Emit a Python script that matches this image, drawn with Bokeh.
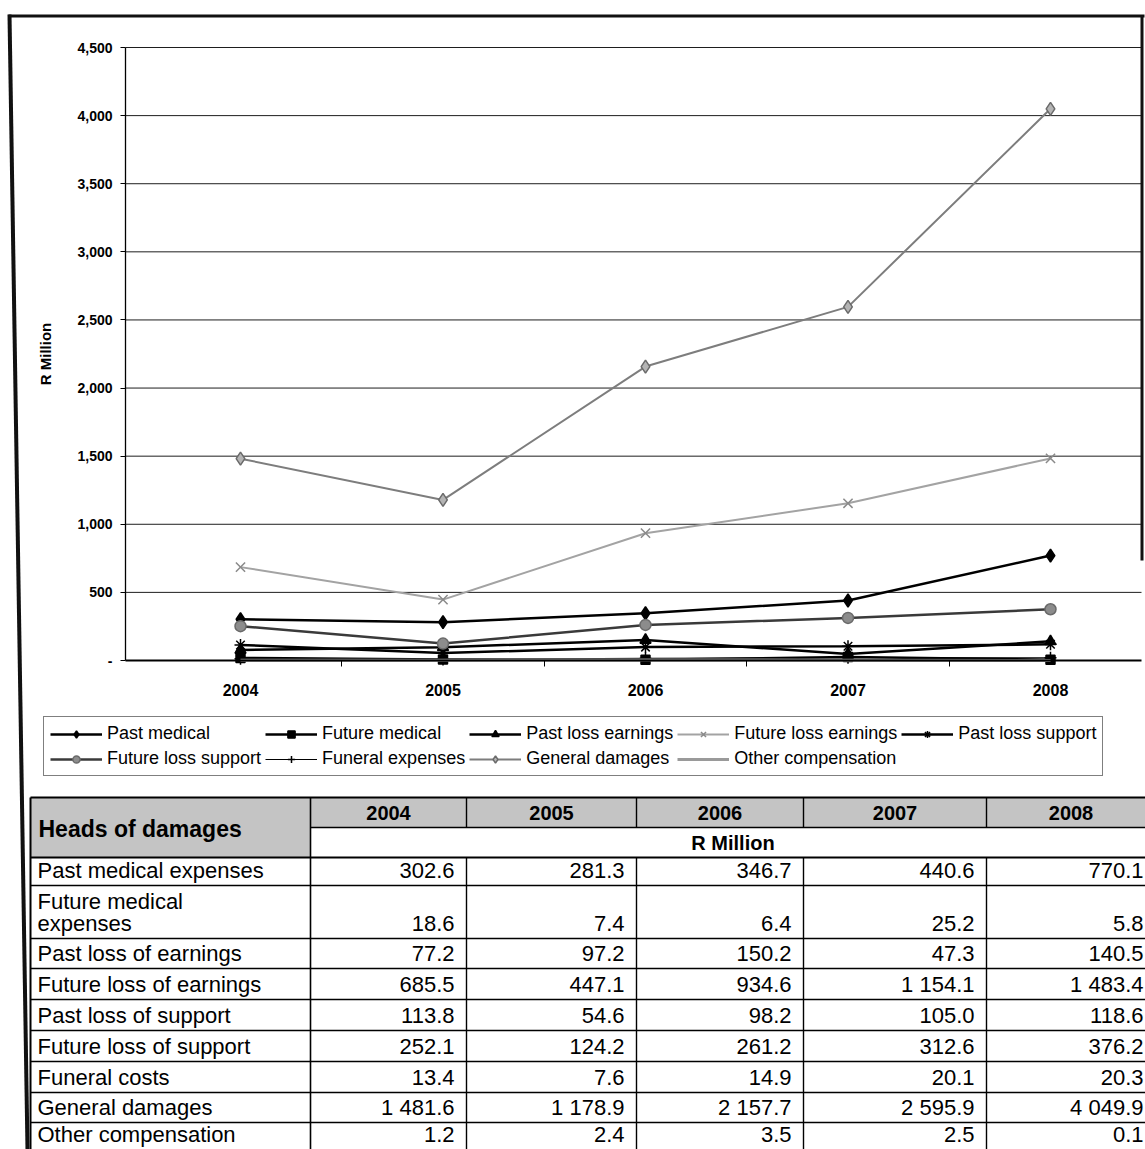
from bokeh.plotting import figure
from bokeh.models import (Range1d, FixedTicker, NumeralTickFormatter, Legend,
                          LegendItem, LinearAxis, ColumnDataSource)
from bokeh.embed import file_html
from bokeh.resources import INLINE
from bokeh.core.properties import value

# ---- data (R Million) ----
years = [2004, 2005, 2006, 2007, 2008]

past_medical = [302.6, 281.3, 346.7, 440.6, 770.1]
future_medical = [18.6, 7.4, 6.4, 25.2, 5.8]
past_loss_earnings = [77.2, 97.2, 150.2, 47.3, 140.5]
future_loss_earnings = [685.5, 447.1, 934.6, 1154.1, 1483.4]
past_loss_support = [113.8, 54.6, 98.2, 105.0, 118.6]
future_loss_support = [252.1, 124.2, 261.2, 312.6, 376.2]
funeral_costs = [13.4, 7.6, 14.9, 20.1, 20.3]
general_damages = [1481.6, 1178.9, 2157.7, 2595.9, 4049.9]
other_compensation = [1.2, 2.4, 3.5, 2.5, 0.1]

legend_labels = ["Past medical", "Future medical", "Past loss earnings",
                 "Future loss earnings", "Past loss support", "Future loss support",
                 "Funeral expenses", "General damages", "Other compensation"]

table_labels = ["Past medical expenses", "Future medical\nexpenses",
                "Past loss of earnings", "Future loss of earnings",
                "Past loss of support", "Future loss of support",
                "Funeral costs", "General damages", "Other compensation"]

y_ticks = [0, 500, 1000, 1500, 2000, 2500, 3000, 3500, 4000, 4500]

series_values = [past_medical, future_medical, past_loss_earnings,
                 future_loss_earnings, past_loss_support, future_loss_support,
                 funeral_costs, general_damages, other_compensation]

FONT = "Liberation Sans"
W, H = 1145, 1149

# line colour, line width, marker, marker size, marker fill, marker outline
styles = [
    ("#000000", 2.5, "diamond", 13, "#000000", "#000000"),
    ("#000000", 2.5, "square", 9, "#000000", "#000000"),
    ("#000000", 2.5, "triangle", 11, "#000000", "#000000"),
    ("#a3a3a3", 2.0, "x", 13, None, "#8a8a8a"),
    ("#000000", 2.5, "asterisk", 12, None, "#000000"),
    ("#3a3a3a", 2.5, "circle", 11, "#8c8c8c", "#6a6a6a"),
    ("#000000", 1.2, "cross", 12, None, "#000000"),
    ("#7d7d7d", 2.0, "diamond", 13, "#b4b4b4", "#6a6a6a"),
    ("#9a9a9a", 3.0, None, 0, None, None),
]

# ---- page canvas: one frame over the whole page, in page pixels ----
p = figure(width=W, height=H, output_backend="svg", toolbar_location=None,
           x_range=Range1d(0, W), y_range=Range1d(H, 0),
           x_axis_type=None, y_axis_type=None, min_border=0)
p.outline_line_color = None
p.background_fill_color = "white"
p.border_fill_color = "white"
p.grid.visible = False

# chart plot area on the page
PLOT_L, PLOT_R, PLOT_T, PLOT_B = 125, 1141, 47, 660
X_FIRST, PX_PER_YEAR = 240, 202.5
Y_MAX = 4500

yr_lo = years[0] - X_FIRST / PX_PER_YEAR
yr_hi = years[0] + (W - X_FIRST) / PX_PER_YEAR
px_per_val = (PLOT_B - PLOT_T) / Y_MAX
val_lo = -(H - PLOT_B) / px_per_val
val_hi = PLOT_B / px_per_val
p.extra_x_ranges = {"yr": Range1d(yr_lo, yr_hi)}
p.extra_y_ranges = {"val": Range1d(val_lo, val_hi)}

area_lo = years[0] - (X_FIRST - PLOT_L) / PX_PER_YEAR
area_hi = years[0] + (PLOT_R - X_FIRST) / PX_PER_YEAR

# horizontal gridlines
grid_vals = [v for v in y_ticks if v > 0]
p.segment(x0=[area_lo] * len(grid_vals), x1=[area_hi] * len(grid_vals),
          y0=grid_vals, y1=grid_vals, x_range_name="yr", y_range_name="val",
          line_color="#1e1e1e", line_width=1)

# value axis
ya = LinearAxis(x_range_name="yr", y_range_name="val", fixed_location=area_lo,
                bounds=(0, Y_MAX), ticker=FixedTicker(ticks=y_ticks),
                formatter=NumeralTickFormatter(format="0,0"))
ya.major_label_overrides = {0: "-"}
ya.major_label_text_font = FONT
ya.major_label_text_font_style = "bold"
ya.major_label_text_font_size = "14px"
ya.major_label_text_color = "#000000"
ya.major_tick_out = 5
ya.major_tick_in = 0
ya.minor_tick_out = 0
ya.minor_tick_in = 0
ya.major_label_standoff = 8
ya.axis_line_color = "#000000"
ya.axis_line_width = 1.3
ya.axis_label = "R Million"
ya.axis_label_text_font = FONT
ya.axis_label_text_font_style = "bold"
ya.axis_label_text_font_size = "15px"
ya.axis_label_text_color = "#000000"
ya.axis_label_standoff = 20
p.add_layout(ya, "left")

# year axis: labels under each year, ticks between years
xa = LinearAxis(x_range_name="yr", y_range_name="val", fixed_location=0,
                bounds=(area_lo, area_hi),
                ticker=FixedTicker(ticks=years,
                                   minor_ticks=[y + 0.5 for y in years[:-1]]))
xa.major_tick_out = 0
xa.major_tick_in = 0
xa.minor_tick_out = 6
xa.minor_tick_in = 0
xa.minor_tick_line_color = "#000000"
xa.major_label_standoff = 17
xa.major_label_text_font = FONT
xa.major_label_text_font_style = "bold"
xa.major_label_text_font_size = "16px"
xa.major_label_text_color = "#000000"
xa.axis_line_color = "#000000"
xa.axis_line_width = 1.8
p.add_layout(xa, "below")

items = []
for label, vals, (lc, lw, mk, ms, mf, ml) in zip(legend_labels, series_values, styles):
    src = ColumnDataSource(dict(year=years, amount=vals))
    rends = [p.line("year", "amount", source=src, line_color=lc, line_width=lw,
                    x_range_name="yr", y_range_name="val")]
    if mk:
        rends.append(p.scatter("year", "amount", source=src, marker=mk, size=ms,
                               fill_color=mf, line_color=ml, line_width=1.5,
                               x_range_name="yr", y_range_name="val"))
    items.append(LegendItem(label=label, renderers=rends))

LEG_L, LEG_B = 43, 776
legend = Legend(items=items, location=(LEG_L, H - LEG_B), orientation="horizontal",
                ncols=5, label_text_font=FONT, label_text_font_size="18px",
                label_text_color="#000000", glyph_width=52, glyph_height=18,
                label_height=18, label_standoff=5, spacing=4, padding=6, margin=0,
                border_line_color="#000000", border_line_width=1,
                background_fill_color="white", background_fill_alpha=1.0)
p.add_layout(legend)

# page frame: slightly slanted left edge, top edge, upper right edge
p.patch(x=[7, 11, 29, 25], y=[14, 14, H, H], fill_color="#111111", line_color=None)
p.quad(left=[8, 1140], right=[1144, 1143], top=[14, 15], bottom=[17, 560],
       fill_color="#111111", line_color=None)

# ---- table ----
col_edges = [30, 310, 466, 636, 803, 986, 1155]
row_edges = [857, 885, 938, 968, 999, 1030, 1061, 1092, 1122, 1149]
TOP, MID, HEAD_BOTTOM = 797, 827, 857
LINE_H = 22

# shaded header cells
hl = col_edges[:-1]
hr = col_edges[1:]
ht = [TOP] * len(hl)
hb = [HEAD_BOTTOM] + [MID] * (len(hl) - 1)
p.quad(left=hl, right=hr, top=ht, bottom=hb, fill_color="#c4c4c4", line_color=None)

# rules
x0s, x1s, y0s, y1s, ws = [], [], [], [], []
def seg(x0, y0, x1, y1, w=1.4):
    x0s.append(x0); y0s.append(y0); x1s.append(x1); y1s.append(y1); ws.append(w)

seg(col_edges[0], TOP, col_edges[-1], TOP, 2.0)
seg(col_edges[1], MID, col_edges[-1], MID)
seg(col_edges[0], HEAD_BOTTOM, col_edges[-1], HEAD_BOTTOM, 2.0)
for y in row_edges[1:-1]:
    seg(col_edges[0], y, col_edges[-1], y)
seg(col_edges[0], TOP, col_edges[0], H, 2.0)
seg(col_edges[1], TOP, col_edges[1], H, 1.6)
for x in col_edges[2:-1]:
    seg(x, TOP, x, MID)
    seg(x, HEAD_BOTTOM, x, H)
p.segment(x0="x0", y0="y0", x1="x1", y1="y1", line_width="w", line_color="#000000",
          source=ColumnDataSource(dict(x0=x0s, y0=y0s, x1=x1s, y1=y1s, w=ws)))

# header texts
p.text(x=[38], y=[(TOP + HEAD_BOTTOM) / 2 + 1], text=["Heads of damages"],
       text_font=value(FONT), text_font_size="23px", text_font_style="bold",
       text_baseline="middle", text_align="left", text_color="#000000")
centers = [(a + b) / 2 for a, b in zip(col_edges[1:-1], col_edges[2:])]
p.text(x=centers, y=[(TOP + MID) / 2] * len(centers), text=[str(y) for y in years],
       text_font=value(FONT), text_font_size="20px", text_font_style="bold",
       text_baseline="middle", text_align="center", text_color="#000000")
p.text(x=[(col_edges[1] + col_edges[-1]) / 2], y=[(MID + HEAD_BOTTOM) / 2],
       text=["R Million"], text_font=value(FONT), text_font_size="20px",
       text_font_style="bold", text_baseline="middle", text_align="center",
       text_color="#000000")

# body texts, sitting at the bottom of each row
def fmt(v):
    return f"{v:,.1f}".replace(",", " ")

bottoms = row_edges[1:]
lx, ly, lt = [], [], []
for lab, b in zip(table_labels, bottoms):
    for k, line in enumerate(reversed(lab.split("\n"))):
        lx.append(37)
        ly.append(b - 15 - k * LINE_H)
        lt.append(line)
p.text(x=lx, y=ly, text=lt, text_font=value(FONT), text_font_size="22px",
       text_baseline="middle", text_align="left", text_color="#000000")

vx, vy, vt = [], [], []
for j, yr in enumerate(years):
    right = col_edges[j + 2] - 12
    for i, vals in enumerate(series_values):
        vx.append(right)
        vy.append(bottoms[i] - 15)
        vt.append(fmt(vals[j]))
p.text(x=vx, y=vy, text=vt, text_font=value(FONT), text_font_size="22px",
       text_baseline="middle", text_align="right", text_color="#000000")

open("out.html", "w").write(file_html(p, INLINE))
